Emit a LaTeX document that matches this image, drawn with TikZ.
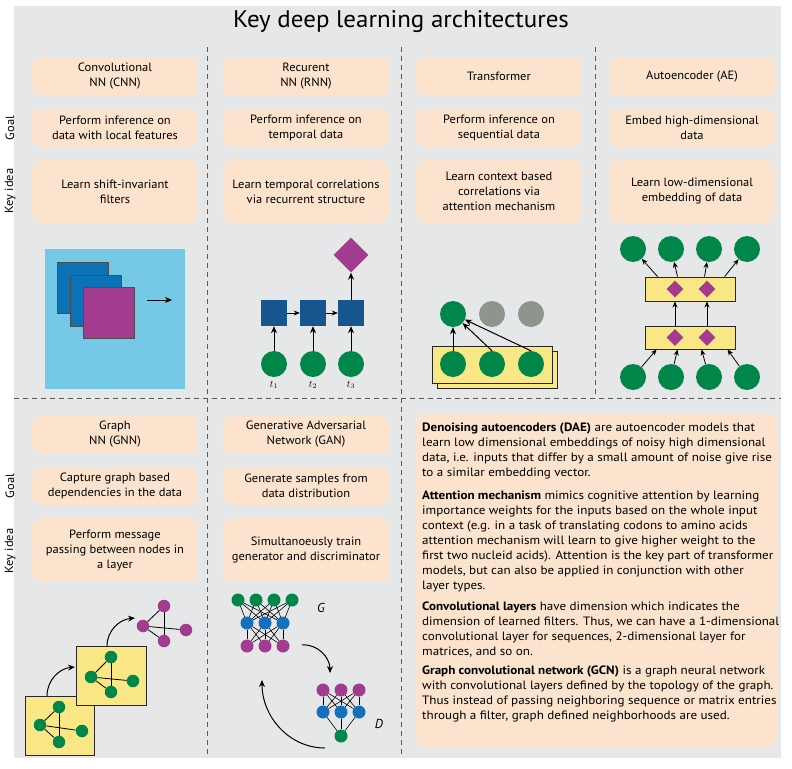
\documentclass[tikz,border=0pt]{standalone}
\usepackage{fontspec}
\setmainfont{PT Sans}
\newfontfamily\bodyfont[FakeStretch=1.08]{PT Sans}
\newfontfamily\boxfont[FakeStretch=1.04]{PT Sans}
\usetikzlibrary{shapes.geometric,arrows.meta,calc}
\definecolor{bggray}{HTML}{E6E7E8}
\definecolor{peach}{HTML}{FBE3CD}
\definecolor{divgray}{HTML}{5A5A5A}
\definecolor{cnnbg}{HTML}{76C8E7}
\definecolor{cnnblue}{HTML}{0B72B5}
\definecolor{magenta}{HTML}{A33C8F}
\definecolor{rnnblue}{HTML}{17558F}
\definecolor{nngreen}{HTML}{008648}
\definecolor{tgray}{HTML}{8E958D}
\definecolor{yel}{HTML}{F9E685}
\definecolor{ganblue}{HTML}{1470BC}
\begin{document}
\begin{tikzpicture}[x=1pt,y=1pt,
  box/.style={fill=peach, rounded corners=9pt, minimum width=166pt, align=center, inner sep=2pt, font=\boxfont\fontsize{12}{15}\selectfont},
  side/.style={rotate=90, font=\boxfont\fontsize{12}{14}\selectfont},
  divider/.style={draw=divgray, line width=1pt, dash pattern=on 5pt off 4pt},
  gc/.style={circle, fill=nngreen, minimum size=26pt, inner sep=0pt},
  grc/.style={circle, fill=tgray, minimum size=26pt, inner sep=0pt},
  sq/.style={rectangle, fill=rnnblue, minimum size=26pt, inner sep=0pt},
  dia/.style={diamond, fill=magenta, minimum width=#1, minimum height=#1, inner sep=0pt},
  arr/.style={-{Stealth[length=7pt,width=6pt]}, line width=1pt},
  sarr/.style={-{Stealth[length=6pt,width=5pt]}, line width=0.8pt},
  smc/.style={circle, fill=#1, minimum size=12.5pt, inner sep=0pt},
  edge/.style={line width=0.8pt},
  yrect/.style={fill=yel, draw=black!85, line width=0.9pt}
]
\useasboundingbox (0,0) rectangle (792,-768);
\fill[bggray] (14,-6) rectangle (781,-758);

% title
\node[font=\boxfont\fontsize{24}{28}\selectfont] (title) at (401,-22) {Key deep learning architectures};

% dividers
\coordinate (v1t) at (207,-47); \coordinate (v1b) at (207,-398);
\coordinate (v2t) at (401,-47); \coordinate (v2b) at (401,-398);
\coordinate (v3t) at (595,-47); \coordinate (v3b) at (595,-398);
\coordinate (hl) at (14,-398); \coordinate (hr) at (781,-398);
\coordinate (v4b) at (207,-758); \coordinate (v5b) at (401,-758);
\draw[divider] (v1t) -- (v1b);
\draw[divider] (v2t) -- (v2b);
\draw[divider] (v3t) -- (v3b);
\draw[divider] (hl) -- (hr);
\draw[divider] (v1b) -- (v4b);
\draw[divider] (v2b) -- (v5b);

% side labels
\node[side] (goal1) at (10,-128) {Goal};
\node[side] (key1) at (10,-191) {Key idea};
\node[side] (goal2) at (10,-486) {Goal};
\node[side] (key2) at (10,-551) {Key idea};

% top boxes
\node[box, minimum height=39pt] (b11) at (115,-76.5) {Convolutional\\NN (CNN)};
\node[box, minimum height=38pt] (b12) at (115,-128) {Perform inference on\\data with local features};
\node[box, minimum height=63pt] (b13) at (115,-191.5) {Learn shift-invariant\\filters};
\node[box, minimum height=39pt] (b21) at (306,-76.5) {Recurent\\NN (RNN)};
\node[box, minimum height=38pt] (b22) at (306,-128) {Perform inference on\\temporal data};
\node[box, minimum height=63pt] (b23) at (306,-191.5) {Learn temporal correlations\\via recurrent structure};
\node[box, minimum height=39pt] (b31) at (499,-76.5) {Transformer};
\node[box, minimum height=38pt] (b32) at (499,-128) {Perform inference on\\sequential data};
\node[box, minimum height=63pt] (b33) at (499,-191.5) {Learn context based\\correlations via\\attention mechanism};
\node[box, minimum height=39pt] (b41) at (692,-76.5) {Autoencoder (AE)};
\node[box, minimum height=38pt] (b42) at (692,-128) {Embed high-dimensional\\data};
\node[box, minimum height=63pt] (b43) at (692,-191.5) {Learn low-dimensional\\embedding of data};

% bottom boxes
\node[box, minimum height=38pt] (c11) at (115,-434.5) {Graph\\NN (GNN)};
\node[box, minimum height=38pt] (c12) at (115,-486) {Capture graph based\\dependencies in the data};
\node[box, minimum height=64pt] (c13) at (115,-550) {Perform message\\passing between nodes in\\a layer};
\node[box, minimum height=38pt] (c21) at (306,-434.5) {Generative Adversarial\\Network (GAN)};
\node[box, minimum height=38pt] (c22) at (306,-486) {Generate samples from\\data distribution};
\node[box, minimum height=64pt] (c23) at (306,-550) {Simultanoeusly train\\generator and discriminator};

% text box
\fill[peach, rounded corners=10pt] (416,-413) rectangle (777,-748);
\node[anchor=north west, inner sep=0pt, align=left, font=\bodyfont\fontsize{12.1}{15}\selectfont] (txt) at (422,-423) {%
\textbf{Denoising autoencoders (DAE)} are autoencoder models that\\
learn low dimensional embeddings of noisy high dimensional\\
data, i.e. inputs that differ by a small amount of noise give rise\\
to a similar embedding vector.\\[8pt]
\textbf{Attention mechanism} mimics cognitive attention by learning\\
importance weights for the inputs based on the whole input\\
context (e.g. in a task of translating codons to amino acids\\
attention mechanism will learn to give higher weight to the\\
first two nucleid acids). Attention is the key part of transformer\\
models, but can also be applied in conjunction with other\\
layer types.\\[6pt]
\textbf{Convolutional layers} have dimension which indicates the\\
dimension of learned filters. Thus, we can have a 1-dimensional\\
convolutional layer for sequences, 2-dimensional layer for\\
matrices, and so on.\\[4pt]
\textbf{Graph convolutional network (GCN)} is a graph neural network\\
with convolutional layers defined by the topology of the graph.\\
Thus instead of passing neighboring sequence or matrix entries\\
through a filter, graph defined neighborhoods are used.};

% ---------- CNN icon
\fill[cnnbg] (45,-249) rectangle (185,-389);
\filldraw[fill=cnnblue, draw=black!70, line width=0.7pt] (57,-262) rectangle (108,-313);
\filldraw[fill=cnnblue, draw=black!70, line width=0.7pt] (70,-275) rectangle (121,-326);
\filldraw[fill=magenta, draw=black!70, line width=0.7pt] (83,-287) rectangle (134,-338);
\coordinate (ca) at (147,-300); \coordinate (cb) at (172,-300);
\draw[arr] (ca) -- (cb);

% ---------- RNN icon
\node[sq] (s1) at (274,-313) {};
\node[sq] (s2) at (313,-313) {};
\node[sq] (s3) at (351,-313) {};
\node[gc] (r1) at (274,-364) {};
\node[gc] (r2) at (313,-364) {};
\node[gc] (r3) at (351,-364) {};
\node[dia=35pt] (out) at (351,-255) {};
\draw[arr] (r1) -- (s1);
\draw[arr] (r2) -- (s2);
\draw[arr] (r3) -- (s3);
\draw[sarr] (s1) -- (s2);
\draw[sarr] (s2) -- (s3);
\draw[arr] (s3) -- (out);
\node[font=\fontsize{10}{12}\selectfont] (t1) at (274,-385) {$t_1$};
\node[font=\fontsize{10}{12}\selectfont] (t2) at (313,-385) {$t_2$};
\node[font=\fontsize{10}{12}\selectfont] (t3) at (351,-385) {$t_3$};

% ---------- Transformer icon
\draw[yrect] (437,-351) rectangle (557,-388);
\draw[yrect] (432,-346) rectangle (552,-383);
\node[gc] (tt1) at (453,-314) {};
\node[grc] (tt2) at (492,-314) {};
\node[grc] (tt3) at (531,-314) {};
\node[gc] (tb1) at (453,-364) {};
\node[gc] (tb2) at (492,-364) {};
\node[gc] (tb3) at (531,-364) {};
\draw[arr] (tb1) -- (tt1);
\draw[arr] (tb2.north) -- (tt1);
\draw[arr] (tb3.north) -- (tt1);

% ---------- Autoencoder icon
\node[yrect, rectangle, minimum width=90pt, minimum height=24pt, inner sep=0pt] (ae1) at (690,-289) {};
\node[yrect, rectangle, minimum width=90pt, minimum height=23pt, inner sep=0pt] (ae2) at (690,-337.5) {};
\node[dia=17pt] (d1) at (675,-289) {};
\node[dia=17pt] (d2) at (707,-289) {};
\node[dia=17pt] (d3) at (675,-337.5) {};
\node[dia=17pt] (d4) at (707,-337.5) {};
\node[gc] (o1) at (633,-249) {};
\node[gc] (o2) at (671,-249) {};
\node[gc] (o3) at (709,-249) {};
\node[gc] (o4) at (747,-249) {};
\node[gc] (i1) at (633,-377) {};
\node[gc] (i2) at (671,-377) {};
\node[gc] (i3) at (709,-377) {};
\node[gc] (i4) at (747,-377) {};
\draw[sarr] ([xshift=13pt]ae1.north west) -- (o1);
\draw[sarr] ([xshift=33pt]ae1.north west) -- (o2);
\draw[sarr] ([xshift=60pt]ae1.north west) -- (o3);
\draw[sarr] ([xshift=80pt]ae1.north west) -- (o4);
\draw[sarr] (ae2.north -| d3) -- (ae1.south -| d1);
\draw[sarr] (ae2.north -| d4) -- (ae1.south -| d2);
\draw[sarr] (i1) -- ([xshift=12pt]ae2.south west);
\draw[sarr] (i2) -- ([xshift=33pt]ae2.south west);
\draw[sarr] (i3) -- ([xshift=57pt]ae2.south west);
\draw[sarr] (i4) -- ([xshift=83pt]ae2.south west);

% ---------- GNN icon
\draw[yrect] (25,-696) rectangle (94,-755);
\draw[yrect] (76,-646) rectangle (146,-705);
\node[smc=nngreen] (ga1) at (40,-725) {};
\node[smc=nngreen] (ga2) at (59,-707) {};
\node[smc=nngreen] (ga3) at (82,-731) {};
\node[smc=nngreen] (ga4) at (59,-742) {};
\node[smc=nngreen] (gb1) at (91,-677) {};
\node[smc=nngreen] (gb2) at (111,-657) {};
\node[smc=nngreen] (gb3) at (133,-681) {};
\node[smc=nngreen] (gb4) at (111,-692) {};
\node[smc=magenta] (gm1) at (143,-626) {};
\node[smc=magenta] (gm2) at (164,-606) {};
\node[smc=magenta] (gm3) at (186,-630) {};
\node[smc=magenta] (gm4) at (164,-641) {};
\foreach \p in {ga,gb,gm}{
  \draw[edge] (\p1) -- (\p2);
  \draw[edge] (\p1) -- (\p3);
  \draw[edge] (\p1) -- (\p4);
  \draw[edge] (\p2) -- (\p4);
}
\coordinate (ga0) at (47,-696); \coordinate (gae) at (75,-667);
\coordinate (gb0) at (107,-646); \coordinate (gbe) at (135,-618);
\draw[arr] (ga0) to[out=90,in=185] (gae);
\draw[arr] (gb0) to[out=90,in=185] (gbe);

% ---------- GAN icon
\node[smc=nngreen, minimum size=13pt] (g11) at (238,-600) {};
\node[smc=nngreen, minimum size=13pt] (g12) at (256,-600) {};
\node[smc=nngreen, minimum size=13pt] (g13) at (274,-600) {};
\node[smc=nngreen, minimum size=13pt] (g14) at (292,-600) {};
\node[smc=ganblue, minimum size=13pt] (g21) at (247,-623) {};
\node[smc=ganblue, minimum size=13pt] (g22) at (265,-623) {};
\node[smc=ganblue, minimum size=13pt] (g23) at (283,-623) {};
\node[smc=magenta, minimum size=13pt] (g31) at (247,-646) {};
\node[smc=magenta, minimum size=13pt] (g32) at (265,-646) {};
\node[smc=magenta, minimum size=13pt] (g33) at (283,-646) {};
\foreach \a in {1,2,3,4}{\foreach \b in {1,2,3}{\draw[line width=0.6pt] (g1\a) -- (g2\b);}}
\foreach \a in {1,2,3}{\foreach \b in {1,2,3}{\draw[line width=0.6pt] (g2\a) -- (g3\b);}}
\node[font=\itshape\fontsize{13}{15}\selectfont] (Glab) at (321,-608) {G};
\node[smc=magenta, minimum size=13pt] (d11) at (323,-690) {};
\node[smc=magenta, minimum size=13pt] (d12) at (341,-690) {};
\node[smc=magenta, minimum size=13pt] (d13) at (359,-690) {};
\node[smc=ganblue, minimum size=13pt] (d21) at (323,-712) {};
\node[smc=ganblue, minimum size=13pt] (d22) at (341,-712) {};
\node[smc=ganblue, minimum size=13pt] (d23) at (359,-712) {};
\node[smc=nngreen, minimum size=13pt] (d31) at (341,-736) {};
\foreach \a in {1,2,3}{\foreach \b in {1,2,3}{\draw[line width=0.6pt] (d1\a) -- (d2\b);}}
\foreach \a in {1,2,3}{\draw[line width=0.6pt] (d2\a) -- (d31);}
\node[font=\itshape\fontsize{13}{15}\selectfont] (Dlab) at (379,-724) {D};
\coordinate (ga) at (302,-645); \coordinate (gz) at (330,-673);
\coordinate (da) at (325,-748); \coordinate (dz) at (262,-680);
\draw[arr] (ga) to[out=5,in=90] (gz);
\draw[arr] (da) to[out=180,in=-90] (dz);
\end{tikzpicture}
\end{document}
